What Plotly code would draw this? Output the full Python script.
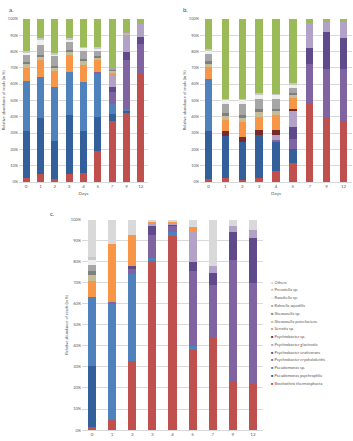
import plotly.graph_objects as go

days = ["0", "1", "2", "3", "4", "5", "7", "9", "12"]

species = [
    "Brochothrix thermosphacta",
    "Pseudomonas psychrophila",
    "Pseudomonas sp.",
    "Psychrobacter cryohalolentis",
    "Psychrobacter urativorans",
    "Psychrobacter glacincola",
    "Psychrobacter sp.",
    "Serratia sp.",
    "Shewanella putrefaciens",
    "Shewanella sp.",
    "Rahnella aquatilis",
    "Raoultella sp.",
    "Prevotella sp.",
    "Others",
]

colors = ["#C0504D", "#33609A", "#4F81BD", "#8064A2", "#5F4B8B", "#B3A2C7",
          "#772C2A", "#F79646", "#C4BD97", "#7F7F7F", "#A6A6A6", "#EFEFEF",
          "#C8C8C8", "#D9D9D9"]
others_green = "#9BBB59"

# values in % per species (rows) and day (columns)
panel_a = [
    [2.5, 5, 2, 5, 5.5, 19, 37.5, 42, 66],
    [28.5, 34.5, 23, 36, 26, 21, 4, 1.5, 0],
    [31, 25, 33.5, 26.5, 30, 26.5, 6.5, 1.5, 0],
    [0, 0, 0, 0, 0, 1, 7, 29.5, 18.5],
    [0, 0, 0, 0, 0, 0, 3.5, 5, 4.5],
    [0, 0, 0, 0, 0, 0, 6.5, 10.5, 8],
    [0, 0, 0, 0, 0, 0, 0, 0, 0],
    [8, 10, 9.5, 10.5, 10, 7, 2.5, 0.5, 0],
    [2.5, 2.5, 2, 1.5, 2.5, 2, 1, 1, 0],
    [1, 1, 1, 1.5, 1.5, 0.5, 0.5, 0.5, 0],
    [4.5, 6, 6, 4.5, 5, 3, 1, 0.5, 0],
    [1.5, 3.5, 1.5, 2, 2, 2, 0, 0, 0],
    [0.5, 0.5, 0.5, 0.5, 0.5, 0.5, 0, 0, 0],
    [20, 12, 21, 12, 17, 17.5, 30, 7.5, 3],
]

panel_b = [
    [2, 2.5, 1, 2.5, 6.5, 11.5, 48, 40, 37.5],
    [29, 25.5, 23.5, 26.5, 18, 8.5, 0, 0, 0],
    [32, 0, 0, 0, 0, 0, 0, 0, 0],
    [0, 0, 0, 0, 1.5, 6.5, 24, 29, 32],
    [0, 0, 0, 0, 0, 7, 10, 23, 19],
    [0, 0, 0, 0, 3, 10, 15.5, 6, 9.5],
    [0, 3, 3, 3, 3, 1.5, 0, 0, 0],
    [7.5, 7, 9, 8, 9, 6.5, 0, 0, 0],
    [2.5, 2.5, 3, 3, 3, 2, 0, 0, 0],
    [1, 1.5, 1.5, 1.5, 1, 1, 0, 0, 0],
    [4.5, 5.5, 6.5, 6.5, 6, 3, 0, 0, 0],
    [2, 3, 3, 3, 2.5, 2.5, 0, 0, 0],
    [1, 0.5, 0.5, 0.5, 0.5, 0.5, 0, 0, 0],
    [18.5, 49, 49, 45.5, 46, 39.5, 2.5, 2, 2],
]

panel_c = [
    [1.5, 5, 33, 81, 92, 38, 43.5, 23.5, 22],
    [29, 0, 0, 0, 0, 0, 0, 0, 0],
    [32.5, 55, 41, 0.5, 2, 2, 0, 0, 0],
    [0, 1, 2.5, 11, 3, 35.5, 25.5, 57.5, 48],
    [0, 0, 1.5, 4.5, 1, 4.5, 5.5, 13, 21],
    [0, 0, 0, 1, 0.5, 14, 3.5, 3, 4],
    [0, 0, 0, 0, 0, 0, 0, 0, 0],
    [8, 27.5, 14.5, 1, 0.5, 2.5, 0, 0, 0],
    [2.5, 0, 0, 0, 0, 0, 0, 0, 0],
    [2, 0, 0, 0, 0, 0, 0, 0, 0],
    [3, 0, 0, 0, 0, 0, 0, 0, 0],
    [2.5, 0, 0, 0, 0, 0, 0, 0, 0],
    [1, 0, 0, 0, 0, 0, 0, 0, 0],
    [18, 11.5, 7.5, 1, 1, 3.5, 22, 3, 5],
]

W, H = 353, 441
FONT = "Lato, Open Sans, sans-serif"
TXT = "#595959"


def px_x(v):
    return v / W


def px_y(v):
    return 1 - v / H


fig = go.Figure()

panels = [
    ("x", "y", panel_a, 0.5, True),
    ("x2", "y2", panel_b, 0.44, True),
    ("x3", "y3", panel_c, 0.4, False),
]

for xa, ya, data, bw, green in panels:
    for i, name in enumerate(species):
        col = colors[i]
        if name == "Others" and green:
            col = others_green
        fig.add_trace(go.Bar(
            x=days, y=data[i], name=name, xaxis=xa, yaxis=ya,
            marker=dict(color=col, line=dict(width=0)),
            width=bw, showlegend=False,
        ))

fig.update_layout(
    width=W, height=H, autosize=False,
    margin=dict(l=0, r=0, t=0, b=0),
    paper_bgcolor="white", plot_bgcolor="white",
    barmode="stack",
    font=dict(family=FONT, size=4, color=TXT),
)

yax_common = dict(range=[0, 100], dtick=10, ticksuffix="%", showgrid=True,
                  gridcolor="#D9D9D9", gridwidth=0.6, zeroline=False,
                  showline=False, tickfont=dict(size=4, color=TXT),
                  ticks="", fixedrange=True)
xax_common = dict(showgrid=False, showline=True, linecolor="#D9D9D9",
                  linewidth=0.8, ticks="", tickfont=dict(size=4.5, color=TXT),
                  type="category", fixedrange=True)

fig.update_layout(
    xaxis=dict(domain=[px_x(19), px_x(148)], anchor="y",
               title=dict(text="Days", font=dict(size=4.5, color=TXT), standoff=3),
               **xax_common),
    yaxis=dict(domain=[px_y(181), px_y(16)], anchor="x",
               title=dict(text="Relative abundance of reads (in %)",
                          font=dict(size=4, color=TXT), standoff=2),
               **yax_common),
    xaxis2=dict(domain=[px_x(200), px_x(352)], anchor="y2",
                title=dict(text="Days", font=dict(size=4.5, color=TXT), standoff=3),
                **xax_common),
    yaxis2=dict(domain=[px_y(181), px_y(16)], anchor="x2",
                title=dict(text="Relative abundance of reads (in %)",
                           font=dict(size=4, color=TXT), standoff=2),
                **yax_common),
    xaxis3=dict(domain=[px_x(82), px_x(263)], anchor="y3", **xax_common),
    yaxis3=dict(domain=[px_y(432), px_y(219)], anchor="x3",
                title=dict(text="Relative abundance of reads (in %)",
                           font=dict(size=4, color=TXT), standoff=2),
                **yax_common),
)

annotations = [
    dict(text="a.", x=px_x(7), y=px_y(7), xanchor="left", yanchor="middle"),
    dict(text="b.", x=px_x(181), y=px_y(7), xanchor="left", yanchor="middle"),
    dict(text="c.", x=px_x(48), y=px_y(213), xanchor="left", yanchor="middle"),
]
for a in annotations:
    a.update(xref="paper", yref="paper", showarrow=False,
             font=dict(family=FONT, size=6, color="#404040"))

# legend for panel c (drawn as text entries, top item = last species)
leg_top, leg_step = 282.3, 7.87
for k, i in enumerate(reversed(range(len(species)))):
    annotations.append(dict(
        text=f"<span style='color:{colors[i]}'>■</span> {species[i]}",
        x=px_x(269), y=px_y(leg_top + k * leg_step),
        xref="paper", yref="paper", xanchor="left", yanchor="middle",
        showarrow=False, font=dict(family=FONT, size=4, color=TXT),
    ))

fig.update_layout(annotations=annotations)

fig.write_html("out.html")
